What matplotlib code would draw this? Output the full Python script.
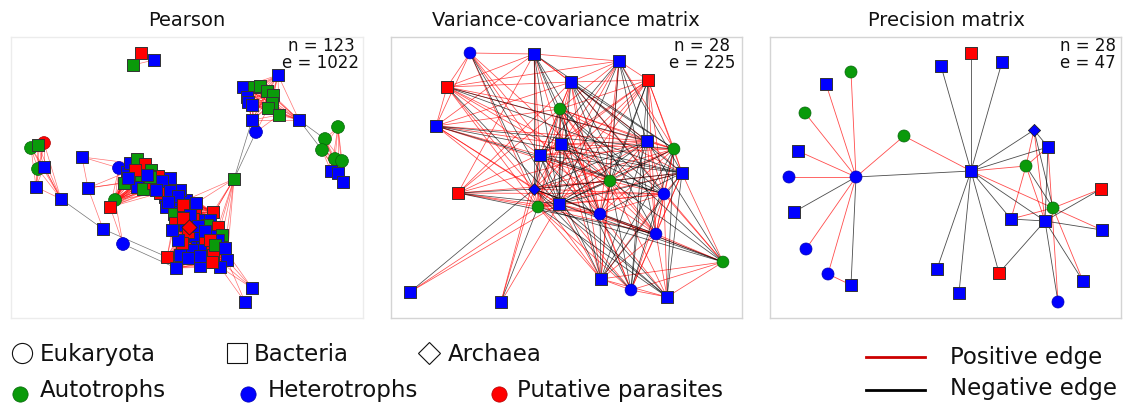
import numpy as np
import matplotlib
matplotlib.use("Agg")
import matplotlib.pyplot as plt
from matplotlib.collections import LineCollection
from itertools import combinations

# ---------------- colours ----------------
GROUP_COLORS = {"A": "#0a9a0a", "H": "#0000ff", "P": "#ff0000"}
GROUP_EDGES = {"A": "#05650a", "H": "#0000b0", "P": "#b00000"}

# ---------------- Pearson network (layout coordinates) ----------------
pear_x = [141, 133, 154,
          278, 243, 254, 260, 267, 273, 247, 248, 252, 272, 268, 279, 252, 256, 299,
          338, 325, 322, 335, 342, 331, 338, 343,
          234,
          31, 44, 38, 38, 44, 36, 61, 82, 88, 103, 123,
          119, 127, 130, 137, 145, 151, 124, 141, 137, 143, 153, 160, 167, 165, 172, 115, 110,
          166, 179, 186, 175, 174, 175, 185, 190, 195, 213, 203, 210, 193, 185, 207, 218,
          215, 195, 188, 197, 202, 212, 192, 222, 218, 167, 176, 206, 200, 227, 220, 213, 180,
          252, 245, 189, 158, 170, 180, 182, 205, 212, 160,
          150, 162, 170, 178, 183, 190, 198, 205, 210, 200, 188, 215, 225, 183, 196, 168,
          156, 147, 135, 128, 178, 172]
pear_y = [53, 65, 60,
          75, 87, 87, 86, 91, 95, 97, 102, 105, 103, 108, 115, 120, 132, 120,
          127, 139, 150, 159, 161, 171, 173, 182,
          179,
          148, 143, 145, 169, 167, 187, 199, 157, 188, 229, 244,
          168, 172, 163, 159, 164, 170, 183, 180, 187, 189, 183, 187, 186, 197, 195, 200, 207,
          207, 201, 200, 212, 214, 223, 209, 207, 212, 212, 220, 220, 219, 225, 225, 227,
          236, 236, 232, 247, 247, 248, 250, 235, 240, 257, 268, 262, 266, 260, 267, 255, 255,
          288, 302, 227, 176, 178, 190, 243, 238, 262, 193,
          177, 181, 191, 196, 205, 215, 226, 231, 240, 256, 258, 245, 248, 218, 203, 202,
          190, 175, 170, 178, 240, 230]
pear_shape = ("sss"
              + "sssssssssssss" + "o" + "s"
              + "ooooo" + "sss"
              + "s"
              + "oososssssso"
              + "o" + "ssssssssssssss" + "o" + "s"
              + "s" * 35
              + "D"
              + "sssssss"
              + "s" * 22)
pear_group = ("PAH"
              + "HHAAAAHHHAAAHHH"
              + "AAAAAHHH"
              + "A"
              + "APAAHHHHHHH"
              + "HHHAPAAAHAPHPHHAP"
              + "HHHHAPPHPPHHPHAP"
              + "HHPHHPHAHPHAHHHPH"
              + "HHPPHHPPPP"
              + "AHHHPHHHPHHAHPHHHHPHHH")

# fully connected positive modules (cliques) and extra edges
pear_modules = [
    [0, 1, 2],
    [3, 4, 5, 6, 7, 8, 9, 10, 11, 12, 13, 14, 15, 17],
    [18, 19, 20, 21, 22, 23, 24, 25],
    [27, 28, 29, 30, 31, 32, 33],
    [38, 39, 40, 41, 42, 43, 44, 45, 46, 47, 48, 49, 50, 53, 54, 91, 92, 97,
     98, 115, 116, 117],
    [49, 50, 51, 52, 55, 56, 57, 58, 59, 61, 62, 63, 64, 65, 66, 67, 69, 90, 93,
     99, 100, 101, 102, 103, 111, 112, 113, 114],
    [60, 68, 70, 71, 72, 73, 74, 75, 76, 77, 78, 79, 80, 81, 82, 83, 84, 85, 86, 87,
     94, 95, 96, 104, 105, 106, 107, 108, 109, 110, 118, 119],
]
pear_pos_extra = [(15, 16), (13, 16), (14, 16), (26, 64), (26, 66), (26, 70), (26, 78), (26, 69),
                  (26, 62), (26, 57), (26, 84), (34, 38), (34, 35), (35, 39), (35, 44), (35, 45),
                  (34, 40), (35, 36), (53, 37), (54, 37), (31, 33), (84, 88), (85, 88), (84, 89),
                  (85, 89), (86, 88), (79, 88), (54, 44), (53, 45), (26, 110), (26, 109)]
pear_neg = [(17, 19), (17, 20), (15, 26), (16, 26), (33, 36), (36, 80), (37, 81)]

# ---------------- Variance-covariance network ----------------
var_x = [470, 534, 619, 447, 571, 648, 560, 436, 561, 540, 647, 674, 682, 610,
         458, 534, 538, 559, 664, 600, 656, 723, 601, 631, 667, 410, 501]
var_y = [53, 54, 61, 87, 82, 80, 109, 126, 144, 155, 141, 149, 173, 181,
         193, 189, 207, 204, 194, 214, 234, 262, 279, 290, 297, 292, 302]
var_shape = "osssssossssosos" + "Dos" + "oooo" + "sos" + "ss"
var_group = "HHHPHPAHHHHAHAPHAHHHHAHHHHH"
var_pos = {
    1: [2, 4, 8, 10, 14, 17, 20],
    2: [3, 4, 5, 8, 9, 10, 11, 15, 17],
    3: [4, 5, 6, 7, 9, 12, 17, 20, 23],
    4: [5, 7, 8, 9, 10, 12, 14, 16, 17],
    5: [6, 7, 8, 9, 10, 15, 17, 20, 22, 23],
    6: [7, 9, 10, 12, 13, 16, 17, 18, 19, 21],
    7: [8, 9, 10, 11, 12, 13, 14, 15, 17, 20, 21, 24],
    8: [9, 10, 11, 14, 16, 17, 18],
    9: [10, 11, 12, 15, 16, 17, 20, 21, 23],
    10: [11, 12, 14, 17, 20, 21, 27],
    11: [12, 13, 14, 15, 17, 19, 20, 21],
    12: [13, 14, 16, 17, 19, 20, 21],
    13: [14, 17, 19, 21, 22, 24],
    14: [15, 16, 17, 19, 20, 21, 23, 25],
    15: [17, 19, 20],
    16: [17, 18, 19, 20, 23, 27],
    17: [18, 19, 20, 21, 23, 24, 26],
    18: [19, 20, 21, 23, 24, 26, 27],
    19: [20, 21, 22, 23, 24, 25],
    20: [21, 22, 24, 25],
    21: [22, 23, 24, 25],
    22: [23, 24, 25],
    23: [24, 25],
    24: [25],
}
var_neg = {
    1: [16, 18],
    2: [7, 12, 14, 16, 18, 20],
    3: [10, 11, 13, 14, 18, 21],
    4: [11, 13, 18],
    5: [11, 12, 13, 14, 18, 19, 21],
    6: [11, 14, 20, 24],
    7: [16, 18, 19, 22, 23],
    8: [12, 13, 19],
    9: [13, 14, 18, 19, 24],
    10: [13, 16, 18, 19, 23, 25],
    11: [16, 18, 22, 23, 24],
    12: [18, 23, 24, 25],
    13: [16, 18, 20, 23, 25],
    14: [18, 22, 24],
    15: [16, 18, 21],
    16: [21, 22, 24, 25, 26],
    17: [22, 25, 27],
    18: [22, 25],
    20: [23],
}

# ---------------- Precision network ----------------
prec_x = [971, 941, 1002, 851, 826, 805, 904, 798, 789, 856, 971, 1034, 1048, 1026,
          1101, 1053, 1011, 1045, 1102, 794, 806, 828, 851, 937, 959, 999, 1083, 1058]
prec_y = [53, 66, 62, 72, 84, 113, 136, 151, 177, 177, 171, 130, 147, 166,
          189, 208, 219, 221, 230, 212, 249, 274, 285, 269, 293, 273, 281, 302]
prec_shape = "sss" + "oso" + "os" + "oo" + "sD" + "so" + "so" + "ssss" + "oo" + "sssss" + "o"
prec_group = "PHHAHAAHHHHHHAPAHHHHHHHHHPHH"
prec_pos = [(10, 4), (10, 5), (10, 6), (10, 7), (10, 8), (10, 9), (10, 21), (10, 22), (22, 23),
            (11, 7), (11, 14), (11, 16), (12, 14), (12, 18), (13, 28), (14, 13), (14, 17),
            (14, 18), (16, 15), (16, 19), (16, 17), (16, 27)]
prec_neg = [(10, 20), (10, 23), (10, 11), (11, 1), (11, 2), (11, 3), (11, 12), (11, 13),
            (11, 18), (11, 17), (11, 26), (11, 24), (11, 25), (12, 13), (12, 16), (13, 18),
            (14, 16), (18, 28), (18, 15), (18, 19), (18, 17), (18, 26), (18, 27)]

panel_titles = ["Pearson", "Variance-covariance matrix", "Precision matrix"]
panel_n = [123, 28, 28]
panel_e = [1022, 225, 47]

assert len(pear_x) == len(pear_y) == len(pear_shape) == len(pear_group)
assert len(var_x) == len(var_y) == len(var_shape) == len(var_group)
assert len(prec_x) == len(prec_y) == len(prec_shape) == len(prec_group)


def adjacency_to_pairs(adj):
    return [(i - 1, j - 1) for i, nbrs in adj.items() for j in nbrs]


def one_based(pairs):
    return [(i - 1, j - 1) for i, j in pairs]


def draw_network(ax, xs, ys, shapes, groups, pos, neg, lw, alpha, size, dsize):
    xs = np.asarray(xs, float)
    ys = np.asarray(ys, float)
    for pairs, col in ((pos, "#ff0000"), (neg, "#000000")):
        segs = [[(xs[i], ys[i]), (xs[j], ys[j])] for i, j in pairs]
        ax.add_collection(LineCollection(segs, colors=col, linewidths=lw,
                                         alpha=alpha, zorder=1))
    for marker, z in (("o", 2), ("s", 3), ("D", 4)):
        idx = [k for k, s in enumerate(shapes) if s == marker]
        if not idx:
            continue
        fc = [GROUP_COLORS[groups[k]] for k in idx]
        if marker == "o":
            ec = [GROUP_EDGES[groups[k]] for k in idx]
            lwm = 0.5
            sz = size
        elif marker == "s":
            ec = "#333333"
            lwm = 0.7
            sz = size
        else:
            ec = "#222222"
            lwm = 0.6
            sz = dsize
        ax.scatter(xs[idx], ys[idx], s=sz, marker=marker, c=fc, edgecolors=ec,
                   linewidths=lwm, zorder=z)


W, H = 1123, 405
fig = plt.figure(figsize=(W / 100, H / 100), dpi=100)

boxes = [(11, 37, 363, 318), (391, 37, 742, 318), (770, 37, 1121, 318)]
spine_cols = ["#ececec", "#d4d4d4", "#d4d4d4"]
axes = []
for (x0, y0, x1, y1), sc in zip(boxes, spine_cols):
    ax = fig.add_axes([x0 / W, 1 - y1 / H, (x1 - x0) / W, (y1 - y0) / H])
    ax.set_xlim(x0, x1)
    ax.set_ylim(y1, y0)
    ax.set_xticks([])
    ax.set_yticks([])
    for s in ax.spines.values():
        s.set_color(sc)
        s.set_linewidth(1.0)
    axes.append(ax)

# Pearson edges
pear_pos = []
for mod in pear_modules:
    pear_pos.extend(combinations(mod, 2))
pear_pos.extend(pear_pos_extra)
draw_network(axes[0], pear_x, pear_y, pear_shape, pear_group, pear_pos, pear_neg,
             lw=0.5, alpha=0.55, size=85, dsize=60)
draw_network(axes[1], var_x, var_y, var_shape, var_group,
             adjacency_to_pairs(var_pos), adjacency_to_pairs(var_neg),
             lw=0.55, alpha=0.7, size=72, dsize=36)
draw_network(axes[2], prec_x, prec_y, prec_shape, prec_group,
             one_based(prec_pos), one_based(prec_neg),
             lw=0.6, alpha=0.7, size=75, dsize=38)

# ---------------- overlay for text and legend ----------------
ov = fig.add_axes([0, 0, 1, 1], zorder=10)
ov.set_xlim(0, W)
ov.set_ylim(H, 0)
ov.axis("off")
ov.patch.set_alpha(0)

title_cx = [187, 566, 946]
stat_cx = [321, 702, 1088]
for t, cx, sx, n, e in zip(panel_titles, title_cx, stat_cx, panel_n, panel_e):
    ov.text(cx, 20, t, ha="center", va="center", fontsize=14, color="#111111")
    ov.text(sx, 46, f"n = {n}", ha="center", va="center", fontsize=12, color="#111111")
    ov.text(sx, 63, f"e = {e}", ha="center", va="center", fontsize=12, color="#111111")

# legend: taxonomy shapes
leg_fs = 16.5
for x, mk, ms, label, tx in ((22, "o", 14.5, "Eukaryota", 40),
                             (237, "s", 14.5, "Bacteria", 254),
                             (429, "D", 11, "Archaea", 448)):
    ov.plot([x], [353], marker=mk, ms=ms, mfc="white", mec="#111111", mew=0.8)
    ov.text(tx, 361, label, ha="left", va="baseline", fontsize=leg_fs, color="#111111")

for x, g, label, tx in ((19.5, "A", "Autotrophs", 40),
                        (248, "H", "Heterotrophs", 268),
                        (499, "P", "Putative parasites", 517)):
    ov.plot([x], [394], marker="o", ms=11, mfc=GROUP_COLORS[g], mec=GROUP_EDGES[g], mew=0.5)
    ov.text(tx, 397, label, ha="left", va="baseline", fontsize=leg_fs, color="#111111")

ov.plot([866, 925], [357, 357], color="#cc0000", lw=2)
ov.plot([866, 925], [390, 390], color="#000000", lw=2)
ov.text(950, 364, "Positive edge", ha="left", va="baseline", fontsize=leg_fs, color="#111111")
ov.text(950, 395, "Negative edge", ha="left", va="baseline", fontsize=leg_fs, color="#111111")

fig.savefig("out.png", dpi=100)
